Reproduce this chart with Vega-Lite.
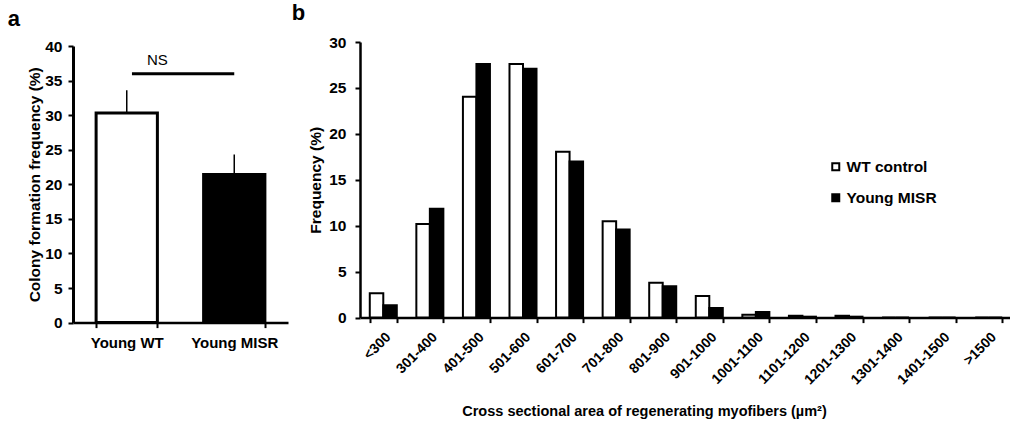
{
  "$schema": "https://vega.github.io/schema/vega-lite/v6.json",
  "background": "white",
  "padding": {"left": 7, "top": 2, "right": 0, "bottom": 0},
  "spacing": 3,
  "resolve": {"scale": {"fill": "independent"}, "legend": {"fill": "independent"}},
  "config": {
    "view": {"stroke": null},
    "font": "Liberation Sans",
    "axis": {
      "domainColor": "black", "domainWidth": 2.5, "tickColor": "black", "tickWidth": 2, "tickSize": 5,
      "labelFont": "Liberation Sans", "labelFontWeight": "bold", "labelColor": "black", "labelFontSize": 15.5,
      "titleFont": "Liberation Sans", "titleFontWeight": "bold", "titleColor": "black", "titleFontSize": 15.5,
      "grid": false
    },
    "title": {"font": "Liberation Sans", "fontSize": 22, "fontWeight": "bold", "anchor": "start", "frame": "bounds", "color": "black"}
  },
  "hconcat": [
    {
      "title": {"text": "a", "offset": 8, "dx": -20},
      "width": 215,
      "height": 280.6,
      "data": {"values": [
        {"group": "Young WT", "value": 30.3, "upper": 33.6},
        {"group": "Young MISR", "value": 21.4, "upper": 24.3}
      ]},
      "encoding": {
        "x": {"field": "group", "type": "nominal", "sort": null,
              "scale": {"domain": ["Young WT", "Young MISR"], "paddingInner": 0.43, "paddingOuter": 0.215},
              "axis": {"title": null, "labelAngle": 0, "tickBand": "extent", "labelPadding": 8, "labelFontSize": 15}},
        "y": {"field": "value", "type": "quantitative", "scale": {"domain": [0, 40], "nice": false, "range": [280.6, 4]},
              "axis": {"title": "Colony formation frequency (%)", "values": [0, 5, 10, 15, 20, 25, 30, 35, 40], "labelPadding": 6, "titlePadding": 2, "domainWidth": 3}}
      },
      "layer": [
        {
          "mark": {"type": "bar", "stroke": "black", "strokeWidth": 3},
          "encoding": {
            "fill": {"field": "group", "type": "nominal", "scale": {"domain": ["Young WT", "Young MISR"], "range": ["white", "black"]}, "legend": null}
          }
        },
        {
          "mark": {"type": "rule", "color": "black", "strokeWidth": 1.5},
          "encoding": {
            "y2": {"field": "upper"}
          }
        },
        {
          "data": {"values": [{"group": "Young WT", "to": "Young MISR", "value": 36, "label": "NS", "ty": 37.3}]},
          "layer": [
            {
              "mark": {"type": "rule", "color": "black", "strokeWidth": 3},
              "encoding": {
                "x": {"field": "group", "type": "nominal", "bandPosition": 0.585},
                "x2": {"field": "to"}
              }
            },
            {
              "mark": {"type": "text", "font": "Liberation Sans", "fontSize": 15, "color": "black", "baseline": "alphabetic"},
              "encoding": {
                "x": {"field": "group", "type": "nominal", "bandPosition": 1},
                "y": {"field": "ty", "type": "quantitative"},
                "text": {"field": "label"}
              }
            }
          ]
        }
      ]
    },
    {
      "title": {"text": "b", "offset": 10, "dx": -17},
      "width": 652,
      "height": 275.6,
      "data": {"values": [
        {"bin": "<300", "series": "WT control", "value": 2.65},
        {"bin": "<300", "series": "Young MISR", "value": 1.35},
        {"bin": "301-400", "series": "WT control", "value": 10.2},
        {"bin": "301-400", "series": "Young MISR", "value": 11.85},
        {"bin": "401-500", "series": "WT control", "value": 24.05},
        {"bin": "401-500", "series": "Young MISR", "value": 27.6},
        {"bin": "501-600", "series": "WT control", "value": 27.6},
        {"bin": "501-600", "series": "Young MISR", "value": 27.1},
        {"bin": "601-700", "series": "WT control", "value": 18.05},
        {"bin": "601-700", "series": "Young MISR", "value": 17.0},
        {"bin": "701-800", "series": "WT control", "value": 10.5},
        {"bin": "701-800", "series": "Young MISR", "value": 9.6},
        {"bin": "801-900", "series": "WT control", "value": 3.8},
        {"bin": "801-900", "series": "Young MISR", "value": 3.4},
        {"bin": "901-1000", "series": "WT control", "value": 2.35},
        {"bin": "901-1000", "series": "Young MISR", "value": 1.05},
        {"bin": "1001-1100", "series": "WT control", "value": 0.3},
        {"bin": "1001-1100", "series": "Young MISR", "value": 0.6},
        {"bin": "1101-1200", "series": "WT control", "value": 0.2},
        {"bin": "1101-1200", "series": "Young MISR", "value": 0.1},
        {"bin": "1201-1300", "series": "WT control", "value": 0.2},
        {"bin": "1201-1300", "series": "Young MISR", "value": 0.1},
        {"bin": "1301-1400", "series": "WT control", "value": 0},
        {"bin": "1301-1400", "series": "Young MISR", "value": 0},
        {"bin": "1401-1500", "series": "WT control", "value": 0},
        {"bin": "1401-1500", "series": "Young MISR", "value": 0},
        {"bin": ">1500", "series": "WT control", "value": 0},
        {"bin": ">1500", "series": "Young MISR", "value": 0}
      ]},
      "mark": {"type": "bar", "stroke": "black", "strokeWidth": 2},
      "encoding": {
        "x": {"field": "bin", "type": "nominal", "sort": null,
              "scale": {"domain": ["<300", "301-400", "401-500", "501-600", "601-700", "701-800", "801-900", "901-1000", "1001-1100", "1101-1200", "1201-1300", "1301-1400", "1401-1500", ">1500"], "paddingInner": 0.42, "paddingOuter": 0.21},
              "axis": {"title": "Cross sectional area of regenerating myofibers (µm²)", "labelAngle": -45, "labelFontSize": 14, "tickBand": "extent", "labelPadding": 7, "labelDx": 3, "titlePadding": 18, "titleFontSize": 14.5, "titleX": 284}},
        "xOffset": {"field": "series", "type": "nominal", "scale": {"domain": ["WT control", "Young MISR"], "paddingInner": 0, "paddingOuter": 0}},
        "y": {"field": "value", "type": "quantitative", "scale": {"domain": [0, 30], "nice": false},
              "axis": {"title": "Frequency (%)", "values": [0, 5, 10, 15, 20, 25, 30], "labelPadding": 9, "titlePadding": 5}},
        "fill": {"field": "series", "type": "nominal", "scale": {"domain": ["WT control", "Young MISR"], "range": ["white", "black"]},
                 "legend": {"title": null, "orient": "none", "legendX": 468, "legendY": 117, "symbolType": "square", "symbolSize": 49, "symbolStrokeColor": "black", "symbolStrokeWidth": 2, "labelFont": "Liberation Sans", "labelFontSize": 15.5, "labelFontWeight": "bold", "labelColor": "black", "rowPadding": 14, "labelOffset": 3, "padding": 0}}
      }
    }
  ]
}
